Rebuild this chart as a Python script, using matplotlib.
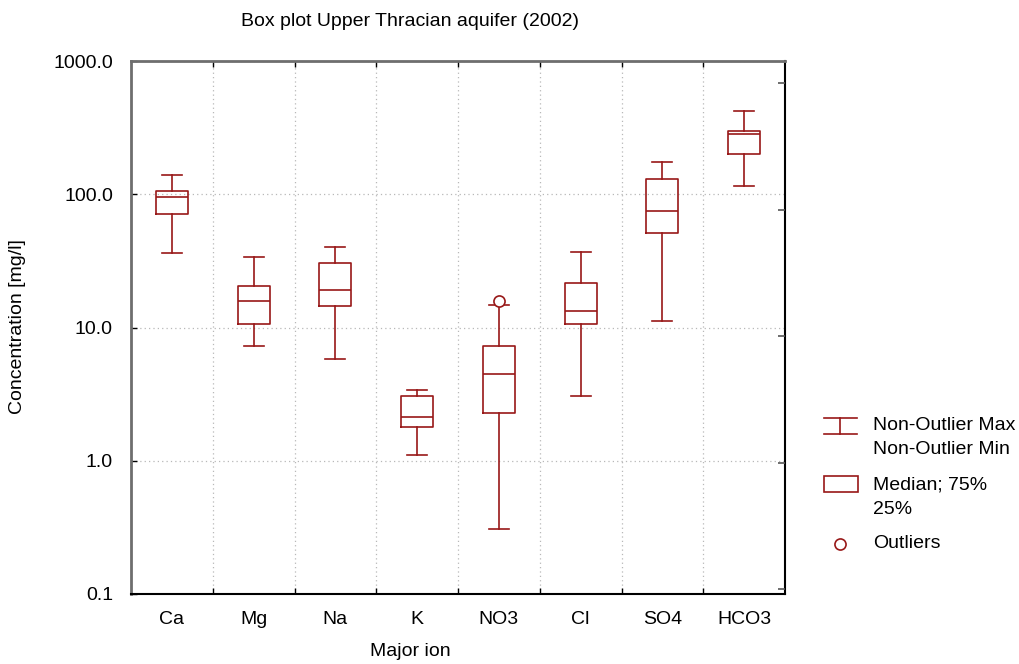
import matplotlib
matplotlib.use("Agg")
import matplotlib.pyplot as plt
from matplotlib.patches import Rectangle
from matplotlib.ticker import FixedLocator, FixedFormatter, NullFormatter

# ---- data ----
categories = ["Ca", "Mg", "Na", "K", "NO3", "Cl", "SO4", "HCO3"]
whisker_max = [138.7, 33.6, 40.0, 3.41, 14.7, 36.9, 173.6, 423.6]
q75 = [106.4, 20.6, 30.6, 3.08, 7.3, 21.7, 130.1, 300.0]
median = [94.9, 15.9, 19.0, 2.12, 4.45, 13.4, 75.3, 284.7]
q25 = [71.1, 10.6, 14.6, 1.78, 2.29, 10.6, 51.4, 200.5]
whisker_min = [36.0, 7.3, 5.8, 1.10, 0.31, 3.08, 11.2, 115.9]
outliers = [[], [], [], [], [15.9], [], [], []]

ytick_vals = [0.1, 1, 10, 100, 1000]
ytick_labels = ["0.1", "1.0", "10.0", "100.0", "1000.0"]

title = "Box plot Upper Thracian aquifer (2002)"
xlabel = "Major ion"
ylabel = "Concentration [mg/l]"
legend_labels = ["Non-Outlier Max\nNon-Outlier Min", "Median; 75%\n25%", "Outliers"]

# ---- style ----
RED = "#981818"
FS = 14
plt.rcParams['font.family'] = ['Liberation Sans', 'DejaVu Sans']

W, H = 1020, 664
fig = plt.figure(figsize=(W / 100, H / 100), dpi=100)
ax = fig.add_axes([131 / W, 1 - 594 / H, (785 - 131) / W, (594 - 61) / H])

stats = []
for i, c in enumerate(categories):
    stats.append(dict(label=c, med=median[i], q1=q25[i], q3=q75[i],
                      whislo=whisker_min[i], whishi=whisker_max[i],
                      fliers=outliers[i]))

positions = list(range(len(categories)))
lw = 1.2
ax.bxp(stats, positions=positions, widths=0.39, capwidths=0.245,
       showfliers=True, patch_artist=False,
       boxprops=dict(color=RED, linewidth=lw),
       whiskerprops=dict(color=RED, linewidth=lw),
       capprops=dict(color=RED, linewidth=lw),
       medianprops=dict(color=RED, linewidth=lw),
       flierprops=dict(marker='o', markersize=8, markerfacecolor='white',
                       markeredgecolor=RED, markeredgewidth=1.2, linestyle='none'))

ax.set_yscale('log')
ax.set_ylim(0.1, 1000)
ax.set_xlim(-0.5, len(categories) - 0.5)

# y ticks
ax.yaxis.set_major_locator(FixedLocator(ytick_vals))
ax.yaxis.set_major_formatter(FixedFormatter(ytick_labels))
ax.yaxis.set_minor_locator(FixedLocator([]))
ax.yaxis.set_minor_formatter(NullFormatter())
ax.tick_params(axis='y', which='major', direction='in', length=4, width=1,
               labelsize=FS, pad=13, left=True, right=False)

# x ticks: major at boundaries (no labels), minor at centers (labels)
bounds = [p + 0.5 for p in positions[:-1]]
ax.xaxis.set_major_locator(FixedLocator(bounds))
ax.xaxis.set_major_formatter(NullFormatter())
ax.xaxis.set_minor_locator(FixedLocator(positions))
ax.xaxis.set_minor_formatter(FixedFormatter(categories))
ax.tick_params(axis='x', which='major', direction='in', length=4, width=1,
               top=True, bottom=True)
ax.tick_params(axis='x', which='minor', length=0, labelsize=FS, pad=12)

# grid
ax.grid(True, which='major', axis='both', linestyle=(0, (1, 2.5)),
        color='#b8b8b8', linewidth=0.9)
ax.set_axisbelow(True)

# spines
ax.spines['left'].set_color('#6e6e6e')
ax.spines['left'].set_linewidth(2)
ax.spines['top'].set_color('#6e6e6e')
ax.spines['top'].set_linewidth(2)
ax.spines['bottom'].set_color('black')
ax.spines['bottom'].set_linewidth(1.5)
ax.spines['right'].set_color('black')
ax.spines['right'].set_linewidth(1.5)

# secondary right axis ticks (offset scale as in reference)
ax2 = ax.twinx()
ax2.set_yscale('log')
ax2.set_ylim(0.0913, 1493)
ax2.yaxis.set_major_locator(FixedLocator(ytick_vals))
ax2.yaxis.set_major_formatter(NullFormatter())
ax2.yaxis.set_minor_locator(FixedLocator([]))
ax2.tick_params(axis='y', direction='in', length=5, width=1.2, color='#555555')
for s in ax2.spines.values():
    s.set_visible(False)

# texts
fig.text(410 / W, 1 - 22 / H, title, ha='center', va='center', fontsize=FS)
fig.text(410 / W, 1 - 652 / H, xlabel, ha='center', va='center', fontsize=FS)
fig.text(18 / W, 1 - 327 / H, ylabel, ha='center', va='center', fontsize=FS,
         rotation=90)

# legend (drawn in pixel coordinates on an overlay axes)
lg = fig.add_axes([0, 0, 1, 1])
lg.set_xlim(0, W)
lg.set_ylim(H, 0)
lg.axis('off')
# whisker symbol
lg.plot([824, 857], [417.5, 417.5], color=RED, lw=lw)
lg.plot([824, 857], [433.5, 433.5], color=RED, lw=lw)
lg.plot([840.5, 840.5], [417.5, 433.5], color=RED, lw=lw)
# box symbol
lg.add_patch(Rectangle((824, 476), 34, 16, fill=False, edgecolor=RED, lw=lw))
# outlier symbol
lg.plot([840.5], [543.5], marker='o', markersize=8, markerfacecolor='white',
        markeredgecolor=RED, markeredgewidth=1.2, linestyle='none')
lg.text(873, 425, legend_labels[0].split("\n")[0], va='center', ha='left', fontsize=FS)
lg.text(873, 450, legend_labels[0].split("\n")[1], va='center', ha='left', fontsize=FS)
lg.text(873, 485, legend_labels[1].split("\n")[0], va='center', ha='left', fontsize=FS)
lg.text(873, 510, legend_labels[1].split("\n")[1], va='center', ha='left', fontsize=FS)
lg.text(873, 543, legend_labels[2], va='center', ha='left', fontsize=FS)

fig.savefig("out.png", dpi=100)
